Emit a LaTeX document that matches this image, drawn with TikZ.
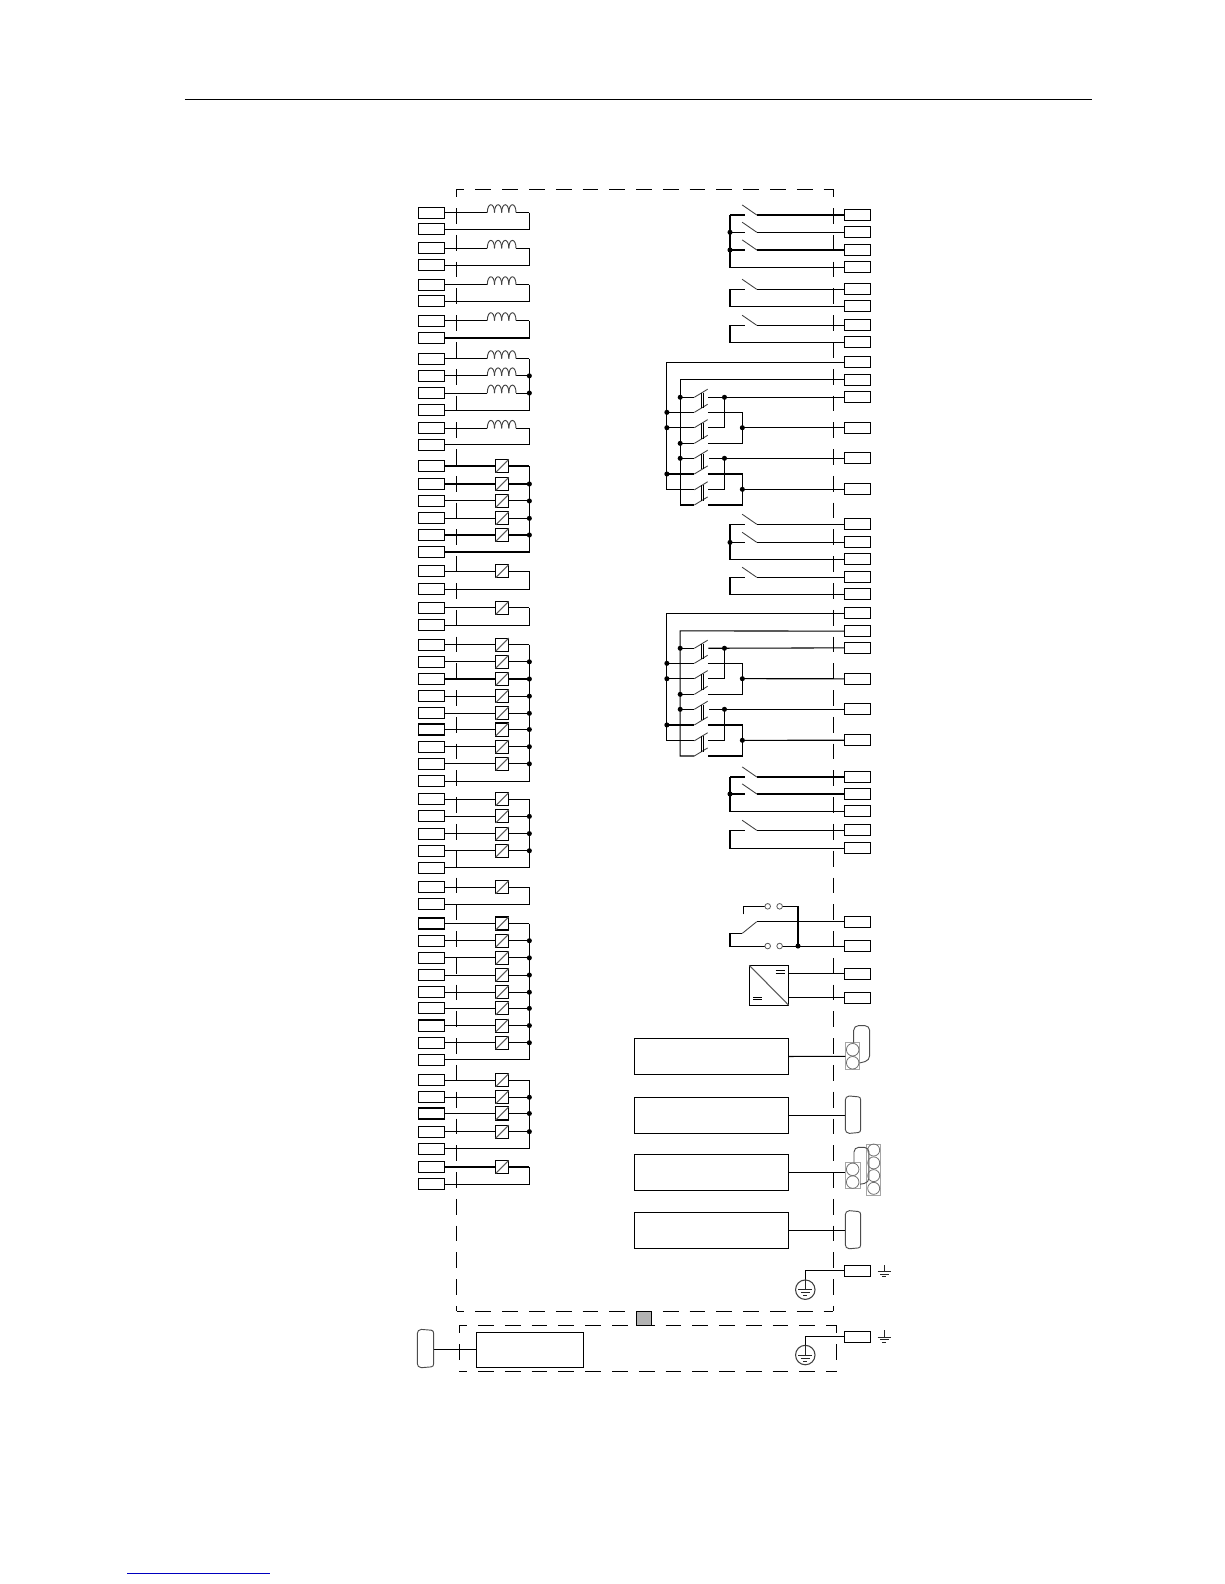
\documentclass[tikz,border=0pt]{standalone}
\usepackage{xcolor}
\newcommand{\uu}{0.7578pt}
\newcommand{\Dsub}[4]{%
  \draw[connd] (#1,#3+4) .. controls (#1,#3+1.5) and (#1+1.5,#3+0.6) .. (#1+4,#3)
    -- (#2-2.5,#3+0.8) .. controls (#2-0.8,#3+1) and (#2,#3+2) .. (#2,#3+4)
    -- (#2,#4-4) .. controls (#2,#4-2) and (#2-0.8,#4-1) .. (#2-2.5,#4-0.8)
    -- (#1+4,#4) .. controls (#1+1.5,#4-0.6) and (#1,#4-1.5) .. (#1,#4-4) -- cycle;}
\tikzset{
  wire/.style={line width=0.8pt,black},
  thin wire/.style={line width=0.65pt,black!75},
  term/.style={draw=black,line width=0.85pt,fill=white,rectangle,minimum width=25.8*\uu,minimum height=10.9*\uu,inner sep=0pt,outer sep=0pt},
  coilst/.style={line width=0.7pt,black!75},
  relbox/.style={draw=black,line width=0.8pt,fill=white,rectangle,minimum width=12.9*\uu,minimum height=12.9*\uu,inner sep=0pt,outer sep=0pt},
  bigbox/.style={draw=black,line width=0.9pt,fill=white,rectangle,minimum width=152*\uu,minimum height=35.6*\uu,inner sep=0pt,outer sep=0pt},
  dashline/.style={line width=0.9pt,black,dash pattern=on 15.6*\uu off 10.9*\uu,dash phase=7.9*\uu},
  jdot/.style={circle,fill=black,inner sep=0pt,minimum size=3.8pt,outer sep=0pt},
  conn/.style={line width=0.7pt,black!70,rounded corners=3.5pt},
  connd/.style={line width=0.7pt,black!70},
  pinbox/.style={draw=black!35,line width=0.7pt},
  pin/.style={draw=black!55,line width=0.6pt},
  gnd/.style={line width=0.8pt,black!85},
}
\begin{document}
\begin{tikzpicture}[x=\uu,y=-\uu]
\useasboundingbox (0,0) rectangle (1211.4,1567.7);
% page rule and link line
\coordinate (ruleA) at (183,98.5);
\coordinate (ruleB) at (1081,98.5);
\draw[line width=0.8pt,black] (ruleA) -- (ruleB);
\coordinate (linkA) at (126,1557.5);
\coordinate (linkB) at (267,1557.5);
\draw[line width=0.8pt,blue!75!black] (linkA) -- (linkB);
% reference x positions
\coordinate (coilL) at (482.3,0);
\coordinate (coilR) at (510.7,0);
\coordinate (relL) at (497,0);
\coordinate (busL) at (523.9,0);
% left terminals
\foreach \y [count=\n] in {210.5,227,245.8,262.6,281.8,298.2,317.4,334.5,355,372,389,406,424,440,
  461.2,479,495.8,513,529.5,546.3,565.4,583,601.7,618.9,
  638,655,672,689,706,722,739,756,773,
  791,808,825,842,859,878,895,
  914,931,948,965,982,998,1015,1032,1049,
  1069,1086,1102,1120,1137,1155,1172}
  {\node[term] (L\n) at (426.9,\y) {};}
% right terminals
\foreach \y [count=\n] in {212.8,229.9,247.4,264.6,286.4,303.2,322,338.8,358.6,376,393.2,423.3,453.6,484.3,
  518.9,536.8,553.6,571.4,588.2,607,624.6,641.2,671.8,702,732.6,769,785.8,803,821.8,839.3,
  912.2,936.3,963.7,987.4,1257.8,1323}
  {\node[term] (R\n) at (848.8,\y) {};}
% coils
\foreach \n/\y in {1/210.5,3/245.8,5/281.8,7/317.4,9/355,10/372,11/389,13/424}{
  \draw[wire] (L\n.east) -- (L\n.east -| coilL);
  \draw[wire] (L\n.east -| coilR) -- (L\n.east -| busL);
  \foreach \k in {0,1,2,3}
    \draw[coilst] (482.3+\k*7.1,\y) .. controls (482.3+\k*7.1,\y-10.5) and (482.3+\k*7.1+7.1,\y-10.5) .. (482.3+\k*7.1+7.1,\y);
}
% relays (boxes)
\foreach \n in {15,16,17,18,19,21,23,25,26,27,28,29,30,31,32,34,35,36,37,39,41,42,43,44,45,46,47,48,50,51,52,53,55}{
  \draw[wire] (L\n.east) -- (L\n.east -| busL);
  \node[relbox] (K\n) at (L\n.east -| relL) {};
  \draw[line width=0.8pt,black!65] (K\n.south west) -- (K\n.north east);
}
% return wires with vertical bus
\foreach \a/\b in {1/2,3/4,5/6,7/8,9/12,13/14,15/20,21/22,23/24,25/33,34/38,39/40,41/49,50/54,55/56}{
  \draw[wire] (L\a.east -| busL) -- (L\b.east -| busL) -- (L\b.east);
}
% junction dots on left bus
\foreach \n in {10,11,16,17,18,19,26,27,28,29,30,31,32,35,36,37,42,43,44,45,46,47,48,51,52,53}
  \node[jdot] at (L\n.east -| busL) {};
% single contacts on the right
\coordinate (ctL) at (722.5,0);
\coordinate (ctS) at (737,0);
\coordinate (ctR) at (749,0);
\foreach \n in {1,2,3,5,7,15,16,18,26,27,29}{
  \draw[wire] (R\n.west) -- (R\n.west -| ctR);
  \draw[thin wire] (R\n.west -| ctR) -- ++(-14.5,-10);
  \draw[wire] (R\n.west -| ctL) -- (R\n.west -| ctS);
}
\foreach \a/\b in {1/4,5/6,7/8,15/17,18/19,26/28,29/30}{
  \draw[wire] (R\a.west -| ctL) -- (R\b.west -| ctL) -- (R\b.west);
}
\foreach \n in {2,3,16,27}
  \node[jdot] at (R\n.west -| ctL) {};
% ganged double contacts
\foreach \o/\ra/\rb/\rc/\rd/\re/\rf in {0/9/10/11/12/13/14,248.4/20/21/22/23/24/25}{
  \draw[wire] (R\ra.west) -- (660,358.6+\o) -- (660,484.8+\o) -- (687.2,484.8+\o);
  \draw[wire] (R\rb.west) -- (673.2,376+\o) -- (673.2,499.8+\o) -- (687.2,499.8+\o);
  \foreach \y in {393.2,438.8,453.6}
    \draw[wire] (673.2,\y+\o) -- (687.2,\y+\o);
  \foreach \y in {408.1,423.3,469.1}
    \draw[wire] (660,\y+\o) -- (687.2,\y+\o);
  \foreach \y in {393.2,408.1,423.3,438.8,453.6,469.1,484.8,499.8}
    \draw[thin wire] (687.2,\y+\o) -- (700.4,\y+\o-8);
  \foreach \y in {393.2,423.3,453.6,484.8}{
    \draw[line width=0.65pt,black] (693.8,\y+\o-4.5) -- (693.8,\y+\o+11);
    \draw[line width=0.65pt,black] (696.1,\y+\o-4.5) -- (696.1,\y+\o+11);
  }
  % right-hand wiring
  \draw[wire] (R\rc.west) -- (701,393.2+\o);
  \draw[wire] (R\re.west) -- (702,453.6+\o);
  \draw[wire] (700.6,408.1+\o) -- (734.7,408.1+\o) -- (734.7,438.8+\o) -- (700.6,438.8+\o);
  \draw[wire] (700.6,469.1+\o) -- (734.7,469.1+\o) -- (734.7,499.8+\o) -- (700.6,499.8+\o);
  \draw[wire] (717,393.2+\o) -- (717,423.3+\o) -- (700.6,423.3+\o);
  \draw[wire] (717,453.6+\o) -- (717,484.8+\o) -- (700.6,484.8+\o);
  \draw[wire] (R\rd.west) -- (734.7,423.3+\o);
  \draw[wire] (R\rf.west) -- (734.7,484.3+\o);
  \node[jdot] at (717,393.2+\o) {};
  \node[jdot] at (717,453.6+\o) {};
  \node[jdot] at (734.7,423.3+\o) {};
  \node[jdot] at (734.7,484.3+\o) {};
  \foreach \y in {393.2,438.8,453.6}
    \node[jdot] at (673.2,\y+\o) {};
  \foreach \y in {408.1,423.3,469.1}
    \node[jdot] at (660,\y+\o) {};
}
% changeover output contact
\coordinate (coA) at (748.9,0);
\draw[wire] (R31.west) -- (R31.west -| coA);
\draw[thin wire] (R31.west -| coA) -- (734.7,923.7);
\coordinate (cs) at (722.5,923.7);
\draw[wire] (734.7,923.7) -- (cs) -- (722.5,936.3) -- (757.1,936.3);
\draw[wire] (735.7,904.9) -- (735.7,897) -- (757.1,897);
\draw[wire] (774.2,897) -- (789.8,897) -- (789.8,936.3);
\draw[wire] (774.2,936.3) -- (R32.west);
\foreach \x in {759.8,771.6}\foreach \y in {897,936.3}
  \draw[line width=0.6pt,black!65,fill=white] (\x,\y) circle (2.1pt);
\node[jdot] at (789.8,936.3) {};
% DC/DC converter
\node[draw=black,line width=0.9pt,fill=white,rectangle,inner sep=0pt,outer sep=0pt,minimum width=39*\uu,minimum height=39.5*\uu] (conv) at (761.1,975.15) {};
\draw[line width=0.8pt,black!65] (conv.north west) -- (conv.south east);
\draw[line width=0.7pt,black] (767.7,960) -- (776.9,960) (767.7,963.3) -- (776.9,963.3);
\draw[line width=0.7pt,black] (745.6,986.8) -- (754.5,986.8) (745.6,989.2) -- (754.5,989.2);
\draw[wire] (R33.west) -- (R33.west -| conv.east);
\draw[wire] (R34.west) -- (R34.west -| conv.east);
% big boxes
\node[bigbox] (B1) at (704.2,1045.6) {};
\node[bigbox] (B2) at (704.2,1103.9) {};
\node[bigbox] (B3) at (704.2,1160.3) {};
\node[bigbox] (B4) at (704.2,1217.7) {};
% connector coordinates
\coordinate (C1) at (836.6,1045.4);
\coordinate (C2) at (836.6,1103.9);
\coordinate (C3) at (836.6,1160.3);
\coordinate (C4) at (836.6,1217.7);
% connector 1
\draw[pinbox] (836.6,1032) rectangle (850.8,1058.3);
\draw[conn] (844.9,1032) -- (844.9,1015.1) -- (860.7,1015.1) -- (860.7,1049.5) -- (850.8,1052);
\draw[pin] (843.9,1038.9) circle (4.7pt);
\draw[pin] (843.9,1051.8) circle (4.7pt);
% connector 2 and 4
\Dsub{836.6}{851.8}{1084.7}{1121.7}
\Dsub{836.6}{851.8}{1198.2}{1235.9}
% connector 3
\draw[pinbox] (836.6,1150.7) rectangle (851.2,1176.2);
\draw[pinbox] (857.8,1132.2) rectangle (871.6,1183);
\draw[conn] (845.2,1150.7) -- (845.2,1135.5) -- (860,1135.5) -- (860,1170.5) -- (851.2,1172);
\draw[pin] (843.9,1157.3) circle (4.7pt);
\draw[pin] (843.9,1169.9) circle (4.7pt);
\foreach \y in {1138.2,1150.9,1163.5,1176.1}
  \draw[pin] (864.7,\y) circle (4.5pt);
% box to connector wires
\draw[wire] (B1.east) -- (C1);
\draw[wire] (B2.east) -- (C2);
\draw[wire] (B3.east) -- (C3);
\draw[wire] (B4.east) -- (C4);
% grounds
\foreach \n/\cy in {35/1276.4,36/1341.1}{
  \coordinate (gx) at (797,0);
  \draw[wire] (R\n.west) -- (R\n.west -| gx) -- (797,\cy-9.8);
  \draw[line width=0.8pt,black!75] (797,\cy) circle (7.3pt);
  \draw[gnd] (797,\cy-9.8) -- (797,\cy);
  \draw[gnd] (790,\cy) -- (804,\cy) (792.3,\cy+3.2) -- (801.7,\cy+3.2) (795,\cy+6.2) -- (799,\cy+6.2);
  \draw[gnd] (875.2,\cy-24.4) -- (875.2,\cy-17.8);
  \draw[gnd] (868.5,\cy-17.8) -- (881.9,\cy-17.8) (871,\cy-15.2) -- (879.4,\cy-15.2) (873.2,\cy-12.6) -- (877.2,\cy-12.6);
}
% dashed enclosures
\draw[dashline] (452,187.4) -- (824.8,187.4);
\draw[dashline] (452,187.4) -- (452,1297.9);
\draw[dashline] (824.8,187.4) -- (824.8,1297.9);
\draw[dashline] (452,1297.9) -- (824.8,1297.9);
\draw[dashline] (454.6,1311.7) -- (828,1311.7);
\draw[dashline] (454.6,1311.7) -- (454.6,1357);
\draw[dashline] (828,1311.7) -- (828,1357);
\draw[dashline] (454.6,1357) -- (828,1357);
% gray square
\draw[black,line width=0.85pt,fill=black!30] (629.8,1297.9) rectangle (645,1311.7);
% programming unit
\node[draw=black,line width=0.9pt,fill=white,rectangle,inner sep=0pt,outer sep=0pt,minimum width=105.9*\uu,minimum height=34.5*\uu] (U) at (524.35,1335.95) {};
\coordinate (UC) at (429.2,1335.4);
\draw[wire] (UC) -- (U.west |- UC);
\Dsub{413}{429.2}{1315.7}{1353.6}
\end{tikzpicture}
\end{document}
